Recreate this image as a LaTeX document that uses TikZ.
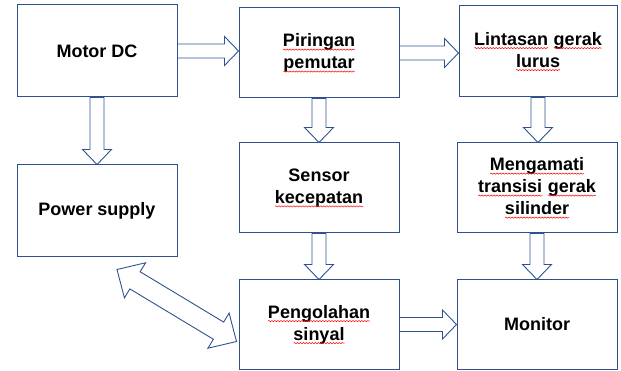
\documentclass[tikz,border=0pt]{standalone}
\usepackage{fontspec}
\setmainfont{Liberation Sans}
\usetikzlibrary{calc,decorations.pathmorphing}
\definecolor{boxblue}{RGB}{47,82,143}
\newcommand{\spell}[1]{\tikz[baseline=(w.base)]{\node[draw=none,inner sep=0pt,outer sep=0pt,
    minimum width=0pt,minimum height=0pt] (w) {#1};
  \draw[red,line width=0.5pt,decorate,decoration={snake,amplitude=0.6pt,segment length=3pt}]
    ([yshift=-3pt]w.base west) -- ([yshift=-3pt]w.base east);}}
\newcommand{\sw}{7pt}
\newcommand{\hw}{14.5pt}
\newcommand{\hl}{14pt}
\newcommand{\blockarrow}[2]{%
  \coordinate (h) at ($(#2)!\hl!(#1)$);
  \draw[arr] ($(#1)!\sw!90:(#2)$) -- ($(h)!\sw!-90:(#1)$) -- ($(h)!\hw!-90:(#1)$) -- (#2)
    -- ($(h)!\hw!90:(#1)$) -- ($(h)!\sw!90:(#1)$) -- ($(#1)!\sw!-90:(#2)$) -- cycle;}
\newcommand{\dblarrow}[2]{%
  \coordinate (h1) at ($(#1)!\hl!(#2)$);
  \coordinate (h2) at ($(#2)!\hl!(#1)$);
  \draw[arr] (#1) -- ($(h1)!\hw!90:(#2)$) -- ($(h1)!\sw!90:(#2)$) -- ($(h2)!\sw!-90:(#1)$)
    -- ($(h2)!\hw!-90:(#1)$) -- (#2) -- ($(h2)!\hw!90:(#1)$) -- ($(h2)!\sw!90:(#1)$)
    -- ($(h1)!\sw!-90:(#2)$) -- ($(h1)!\hw!-90:(#2)$) -- cycle;}
\begin{document}
\begin{tikzpicture}[x=1pt,y=-1pt,
  box/.style={draw=boxblue,line width=1pt,minimum width=160pt,minimum height=90pt,
    inner sep=0pt,align=center,font=\bfseries\fontsize{18}{22}\selectfont},
  arr/.style={draw=boxblue,line width=0.9pt,line join=miter}]
\useasboundingbox (0,0) rectangle (621,371);
\node[box,minimum height=92pt] at (97,51) (motor) {Motor DC};
\node[box,minimum height=92pt] at (97,211) (power) {Power supply};
\node[box] at (319,53) (piringan) {\spell{Piringan}\\\spell{pemutar}};
\node[box] at (319,188) (sensor) {Sensor\\\spell{kecepatan}};
\node[box,minimum height=89pt] at (319,324.5) (olah) {\spell{Pengolahan}\\\spell{sinyal}};
\node[box,minimum width=158pt,minimum height=91pt] at (538,51.5) (lintasan) {\spell{Lintasan} \spell{gerak}\\\spell{lurus}};
\node[box] at (537,188) (amati) {\spell{Mengamati}\\\spell{transisi} \spell{gerak}\\\spell{silinder}};
\node[box,minimum height=89pt] at (537,324.5) (monitor) {Monitor};
\blockarrow{motor.east}{motor.east -| piringan.west}
\blockarrow{piringan.east}{piringan.east -| lintasan.west}
\blockarrow{olah.east}{olah.east -| monitor.west}
\renewcommand{\hl}{15pt}
\blockarrow{motor.south}{power.north}
\blockarrow{piringan.south}{sensor.north}
\blockarrow{sensor.south}{olah.north}
\blockarrow{lintasan.south}{lintasan.south |- amati.north}
\blockarrow{amati.south}{amati.south |- monitor.north}
%power supply <-> pengolahan
\coordinate (ps) at ([shift={(20,12)}]power.south);
\coordinate (po) at ([shift={(-2,17)}]olah.west);
\renewcommand{\sw}{10pt}\renewcommand{\hw}{20.5pt}\renewcommand{\hl}{21pt}
\dblarrow{ps}{po}
\end{tikzpicture}
\end{document}
